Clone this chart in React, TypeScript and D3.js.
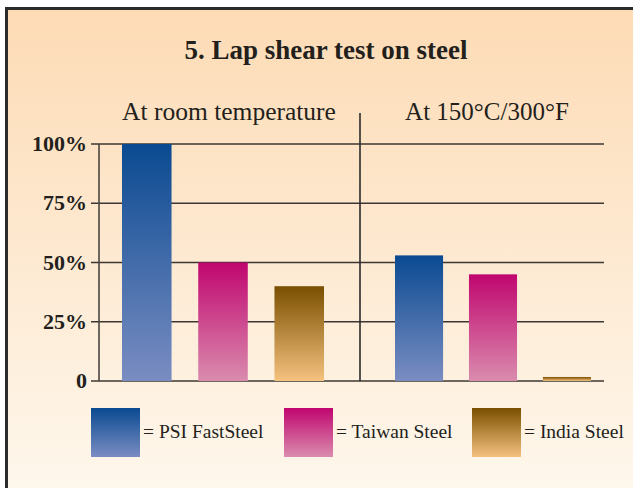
import React from 'react'
import * as d3 from 'd3'

const groups = ['At room temperature', 'At 150°C/300°F']
const series = ['PSI FastSteel', 'Taiwan Steel', 'India Steel']
const roomTemp = [100, 50, 40]
const hotTemp = [53, 45, 1.7]
const yTicks = [0, 25, 50, 75, 100]
const tickLabels = ['0', '25%', '50%', '75%', '100%']

const gradients = [
  { id: 'gBlue', top: '#0a4a91', bottom: '#7a8dc2' },
  { id: 'gPink', top: '#c0066f', bottom: '#da8cae' },
  { id: 'gBrown', top: '#7a4f00', bottom: '#f5c27f' },
]

export default () => {
  const W = 633
  const H = 488
  const y = d3.scaleLinear().domain([0, 100]).range([381, 144])
  const groupRanges: [number, number][] = [[122, 324], [395, 591]]
  const values = [roomTemp, hotTemp]
  const font = '"Liberation Serif", "Times New Roman", serif'
  const ink = '#231f1c'

  return (
    <svg width={W} height={H} style={{ position: 'absolute', left: 0, top: 0 }} fontFamily={font}>
      <defs>
        <linearGradient id="bg" x1="0" y1="0" x2="0" y2="1">
          <stop offset="0" stopColor="#fddbb5" />
          <stop offset="1" stopColor="#fef8ee" />
        </linearGradient>
        {gradients.map(g => (
          <linearGradient key={g.id} id={g.id} x1="0" y1="0" x2="0" y2="1">
            <stop offset="0" stopColor={g.top} />
            <stop offset="1" stopColor={g.bottom} />
          </linearGradient>
        ))}
      </defs>
      <rect x={6.5} y={8.5} width={W + 10} height={H + 10} fill="url(#bg)" stroke="#2b2b2b" strokeWidth={3} />

      <text x={326} y={59} textAnchor="middle" fontSize={27} fontWeight="bold" fill={ink}>
        5. Lap shear test on steel
      </text>
      <text x={229} y={120} textAnchor="middle" fontSize={25.5} fill={ink}>{groups[0]}</text>
      <text x={487} y={120} textAnchor="middle" fontSize={25} fill={ink}>{groups[1]}</text>

      {yTicks.map((t, i) => (
        <g key={t}>
          <line x1={91} x2={604} y1={y(t)} y2={y(t)} stroke="#3c3732" strokeWidth={1.6} />
          <text x={87} y={y(t) + 7} textAnchor="end" fontSize={22} fontWeight="bold" fill={ink}>
            {tickLabels[i]}
          </text>
        </g>
      ))}
      <line x1={99} x2={99} y1={y(100)} y2={y(0)} stroke="#4a4540" strokeWidth={1.6} />
      <line x1={360} x2={360} y1={113} y2={y(0)} stroke="#2a2a2a" strokeWidth={1.6} />

      {values.map((vals, gi) => {
        const x = d3.scaleBand<string>().domain(series).range(groupRanges[gi]).paddingInner(0.35).paddingOuter(0)
        return vals.map((v, si) => (
          <rect
            key={gi + '-' + si}
            x={x(series[si])}
            y={y(v)}
            width={x.bandwidth()}
            height={y(0) - y(v)}
            fill={`url(#${gradients[si].id})`}
          />
        ))
      })}

      {series.map((s, i) => {
        const lx = [91, 284, 472][i]
        return (
          <g key={s}>
            <rect x={lx} y={408} width={49} height={49} fill={`url(#${gradients[i].id})`} />
            <text x={lx + 52} y={438} fontSize={19.5} fill={ink}>= {s}</text>
          </g>
        )
      })}
    </svg>
  )
}
